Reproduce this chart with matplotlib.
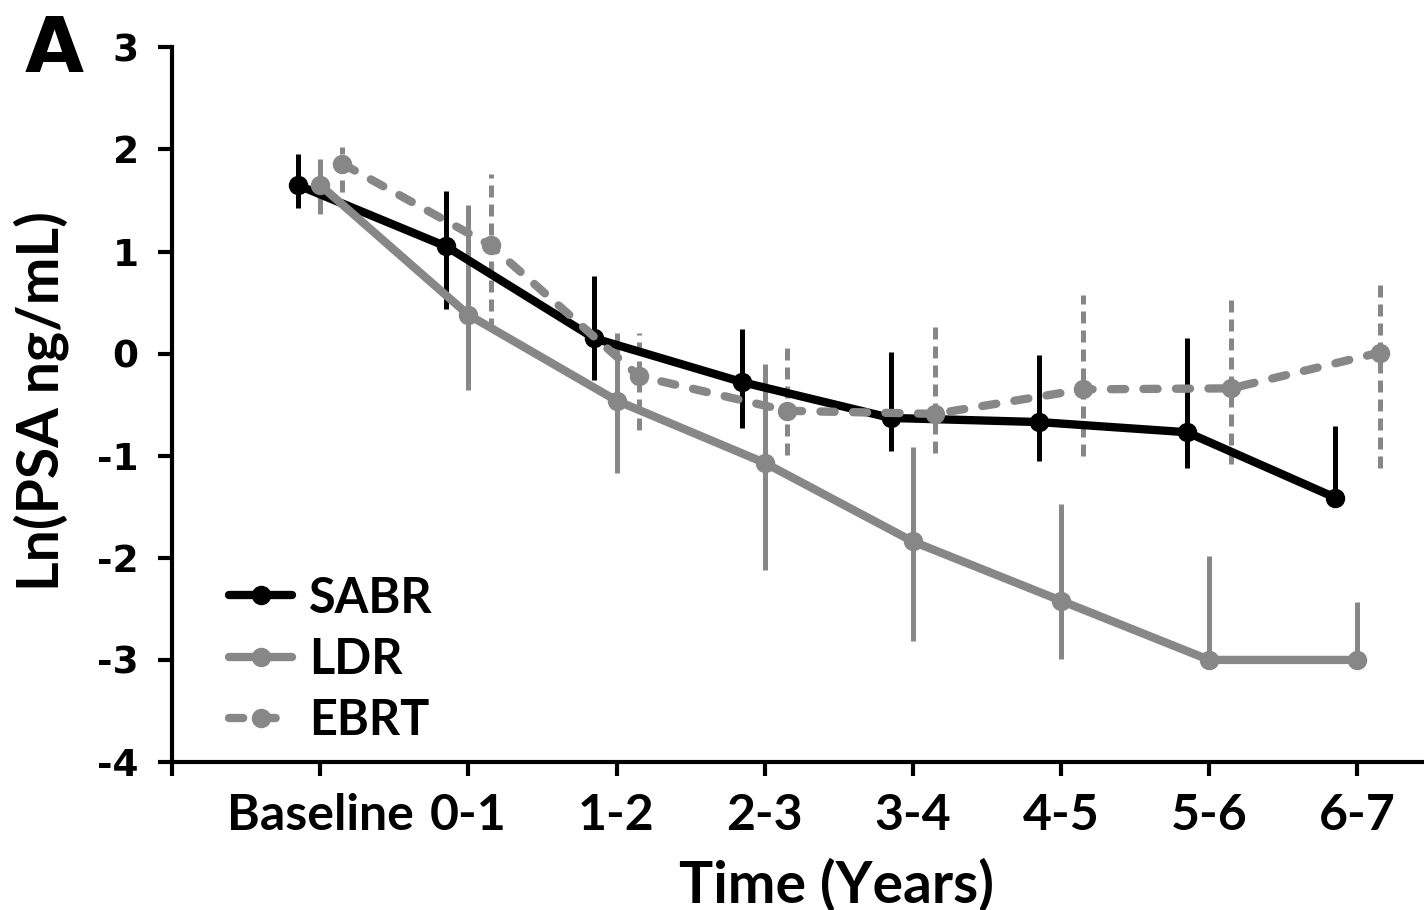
import numpy as np
import matplotlib.pyplot as plt

# categories and values
periods = ['Baseline', '0-1', '1-2', '2-3', '3-4', '4-5', '5-6', '6-7']

sabr_mean = [1.65, 1.05, 0.15, -0.28, -0.63, -0.67, -0.77, -1.41]
sabr_upper = [1.96, 1.59, 0.76, 0.24, 0.02, -0.01, 0.15, -0.71]
sabr_lower = [1.43, 0.44, -0.26, -0.73, -0.95, -1.05, -1.12, -1.41]

ldr_mean = [1.65, 0.38, -0.46, -1.07, -1.84, -2.42, -3.0, -3.0]
ldr_upper = [1.91, 1.46, 0.20, -0.10, -0.91, -1.47, -1.98, -2.43]
ldr_lower = [1.37, -0.36, -1.17, -2.12, -2.81, -2.99, -3.0, -3.0]

ebrt_mean = [1.86, 1.06, -0.22, -0.56, -0.59, -0.35, -0.34, 0.01]
ebrt_upper = [2.02, 1.76, 0.20, 0.08, 0.33, 0.57, 0.54, 0.73]
ebrt_lower = [1.58, 0.23, -0.75, -0.99, -0.97, -1.00, -1.08, -1.12]

grey = '#878787'
fnt = 'Lato'

fig = plt.figure(figsize=(14.24, 9.10), dpi=100)
ax = fig.add_axes([0.1208, 0.1626, 0.8792, 0.7854])

x = np.arange(len(periods))


def draw(off, mean, up, lo, color, ls, label, dashed_err=False):
	m = np.array(mean)
	err = np.vstack([m - np.array(lo), np.array(up) - m])
	cont = ax.errorbar(x + off, m, yerr=err, color=color, ecolor=color,
		elinewidth=3.6, capsize=0, lw=6.0, marker='o', markersize=13,
		linestyle=ls, label=label)
	cont[0].set_solid_capstyle('round')
	cont[0].set_dash_capstyle('round')
	if dashed_err:
		for c in cont[2]:
			c.set_linestyle((0, (2.4, 1.4)))
	return cont


c1 = draw(-0.15, sabr_mean, sabr_upper, sabr_lower, 'black', '-', 'SABR')
c2 = draw(0.0, ldr_mean, ldr_upper, ldr_lower, grey, '-', 'LDR')
c3 = draw(0.15, ebrt_mean, ebrt_upper, ebrt_lower, grey, (0, (1.7, 2.2)), 'EBRT', dashed_err=True)

ax.set_xlim(-1.0, 7.45)
ax.set_ylim(-4, 3)
ax.set_xticks(np.arange(-1, len(periods)))
ax.set_xticklabels([''] + periods, fontfamily=fnt, fontweight='bold', fontsize=36)
ax.set_yticks(range(-4, 4))
ax.set_yticklabels([str(v) for v in range(-4, 4)], fontfamily='DejaVu Sans', fontweight='bold', fontsize=27)

for s in ['top', 'right']:
	ax.spines[s].set_visible(False)
for s in ['left', 'bottom']:
	ax.spines[s].set_linewidth(3.0)
ax.tick_params(axis='both', direction='out', length=10, width=3.0)
ax.tick_params(axis='x', pad=12)
ax.tick_params(axis='y', pad=14)

ax.set_xlabel('Time (Years)', fontfamily=fnt, fontweight='bold', fontsize=41)
ax.xaxis.set_label_coords(0.531, -0.135)
ax.set_ylabel('Ln(PSA ng/mL)', fontfamily=fnt, fontweight='bold', fontsize=41)
ax.yaxis.set_label_coords(-0.082, 0.505)

leg = ax.legend([c1[0], c2[0], c3[0]], ['SABR', 'LDR', 'EBRT'], loc='lower left',
	bbox_to_anchor=(0.03, 0.0), frameon=False,
	prop={'family': fnt, 'weight': 'bold', 'size': 35}, handlelength=1.3,
	labelspacing=0.33, handletextpad=0.35, borderaxespad=0)

fig.text(0.017, 0.921, 'A', fontfamily='DejaVu Sans', fontweight='bold', fontsize=55)

fig.savefig('out.png', dpi=100)
